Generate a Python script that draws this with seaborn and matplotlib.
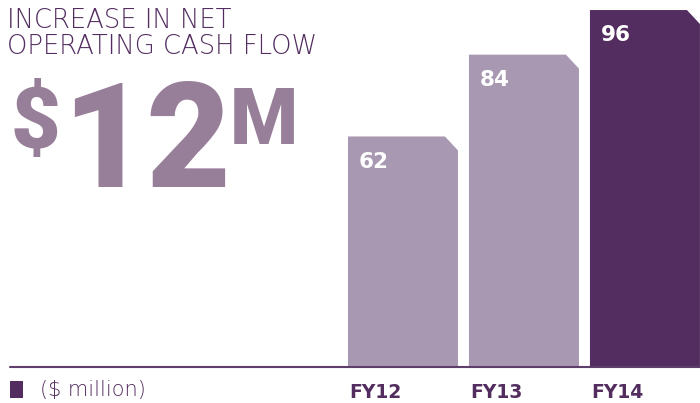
import matplotlib
matplotlib.use("Agg")
import matplotlib.pyplot as plt
import matplotlib.transforms as mtransforms
from matplotlib.patches import Polygon, Rectangle
import seaborn as sns
import pandas as pd

years = ["FY12", "FY13", "FY14"]
values = [62, 84, 96]
bar_colors = ["#a898b1", "#a898b1", "#532d60"]
title_lines = ["INCREASE IN NET", "OPERATING CASH FLOW"]
headline = ["$", "12", "M"]
unit_label = "($ million)"

DARK = "#532d60"
HEAD = "#987f99"

sns.set_theme(style="white")
plt.rcParams["font.family"] = ["DejaVu Sans"]

W, H = 700, 403
fig = plt.figure(figsize=(W / 100, H / 100), dpi=100)
ax = fig.add_axes([10 / W, (H - 367) / H, 690 / W, 367 / H])

df = pd.DataFrame({"year": years, "value": values})
sns.barplot(data=df, x="year", y="value", hue="year", palette=bar_colors,
            width=110 / 121, saturation=1, legend=False, ax=ax)

ax.set_xlim(-3.248, 2.455)
ax.set_ylim(0, 98.7)
for s in ax.spines.values():
    s.set_visible(False)
ax.set_xticks([])
ax.set_yticks([])
ax.set_xlabel("")
ax.set_ylabel("")
ax.axhline(0, color="#5e3f6c", lw=1.5, zorder=5, clip_on=False)

tr = mtransforms.blended_transform_factory(ax.transData, fig.transFigure)
# chamfered top-right corners
cx = 13 / 121
cy = 14 / 3.72
for p, v, yr in zip(list(ax.patches), values, years):
    x0, w, h = p.get_x(), p.get_width(), p.get_height()
    fc = p.get_facecolor()
    p.set_visible(False)
    poly = Polygon([(x0, 0), (x0, h), (x0 + w - cx, h), (x0 + w, h - cy), (x0 + w, 0)],
                   closed=True, facecolor=fc, edgecolor="none", zorder=3)
    ax.add_patch(poly)
    ax.annotate(str(v), xy=(x0, h), xytext=(8, -11), textcoords="offset points",
                ha="left", va="top", color="white", fontsize=15.5, fontweight="bold",
                zorder=6)
    ax.text(x0 + 1 / 121, 1 - 392 / H, yr, transform=tr,
            ha="left", va="center", color=DARK, fontsize=13.5, fontweight="bold")

# title
for i, line in enumerate(title_lines):
    fig.text(7 / W, 1 - (21 + 26 * i) / H, line, ha="left", va="center", color=DARK,
             fontsize=18.6, fontweight="light")

# headline $12M
HF = ["Roboto", "DejaVu Sans"]
fig.text(10 / W, 1 - 148 / H, headline[0], ha="left", va="baseline", color=HEAD,
         fontsize=62, fontweight="black", family=HF)
fig.text(62 / W, 1 - 187 / H, headline[1], ha="left", va="baseline", color=HEAD,
         fontsize=105, fontweight="black", family=HF)
fig.text(230 / W, 1 - 144 / H, headline[2], ha="left", va="baseline", color=HEAD,
         fontsize=56, fontweight="black", family=HF)

# legend square and unit
fig.patches.append(Rectangle((10 / W, 1 - 398 / H), 13 / W, 17 / H,
                             transform=fig.transFigure, facecolor=DARK,
                             edgecolor="none"))
fig.text(40 / W, 1 - 390 / H, unit_label, ha="left", va="center", color=DARK,
         fontsize=15, fontweight="light")

fig.savefig("out.png", dpi=100)
